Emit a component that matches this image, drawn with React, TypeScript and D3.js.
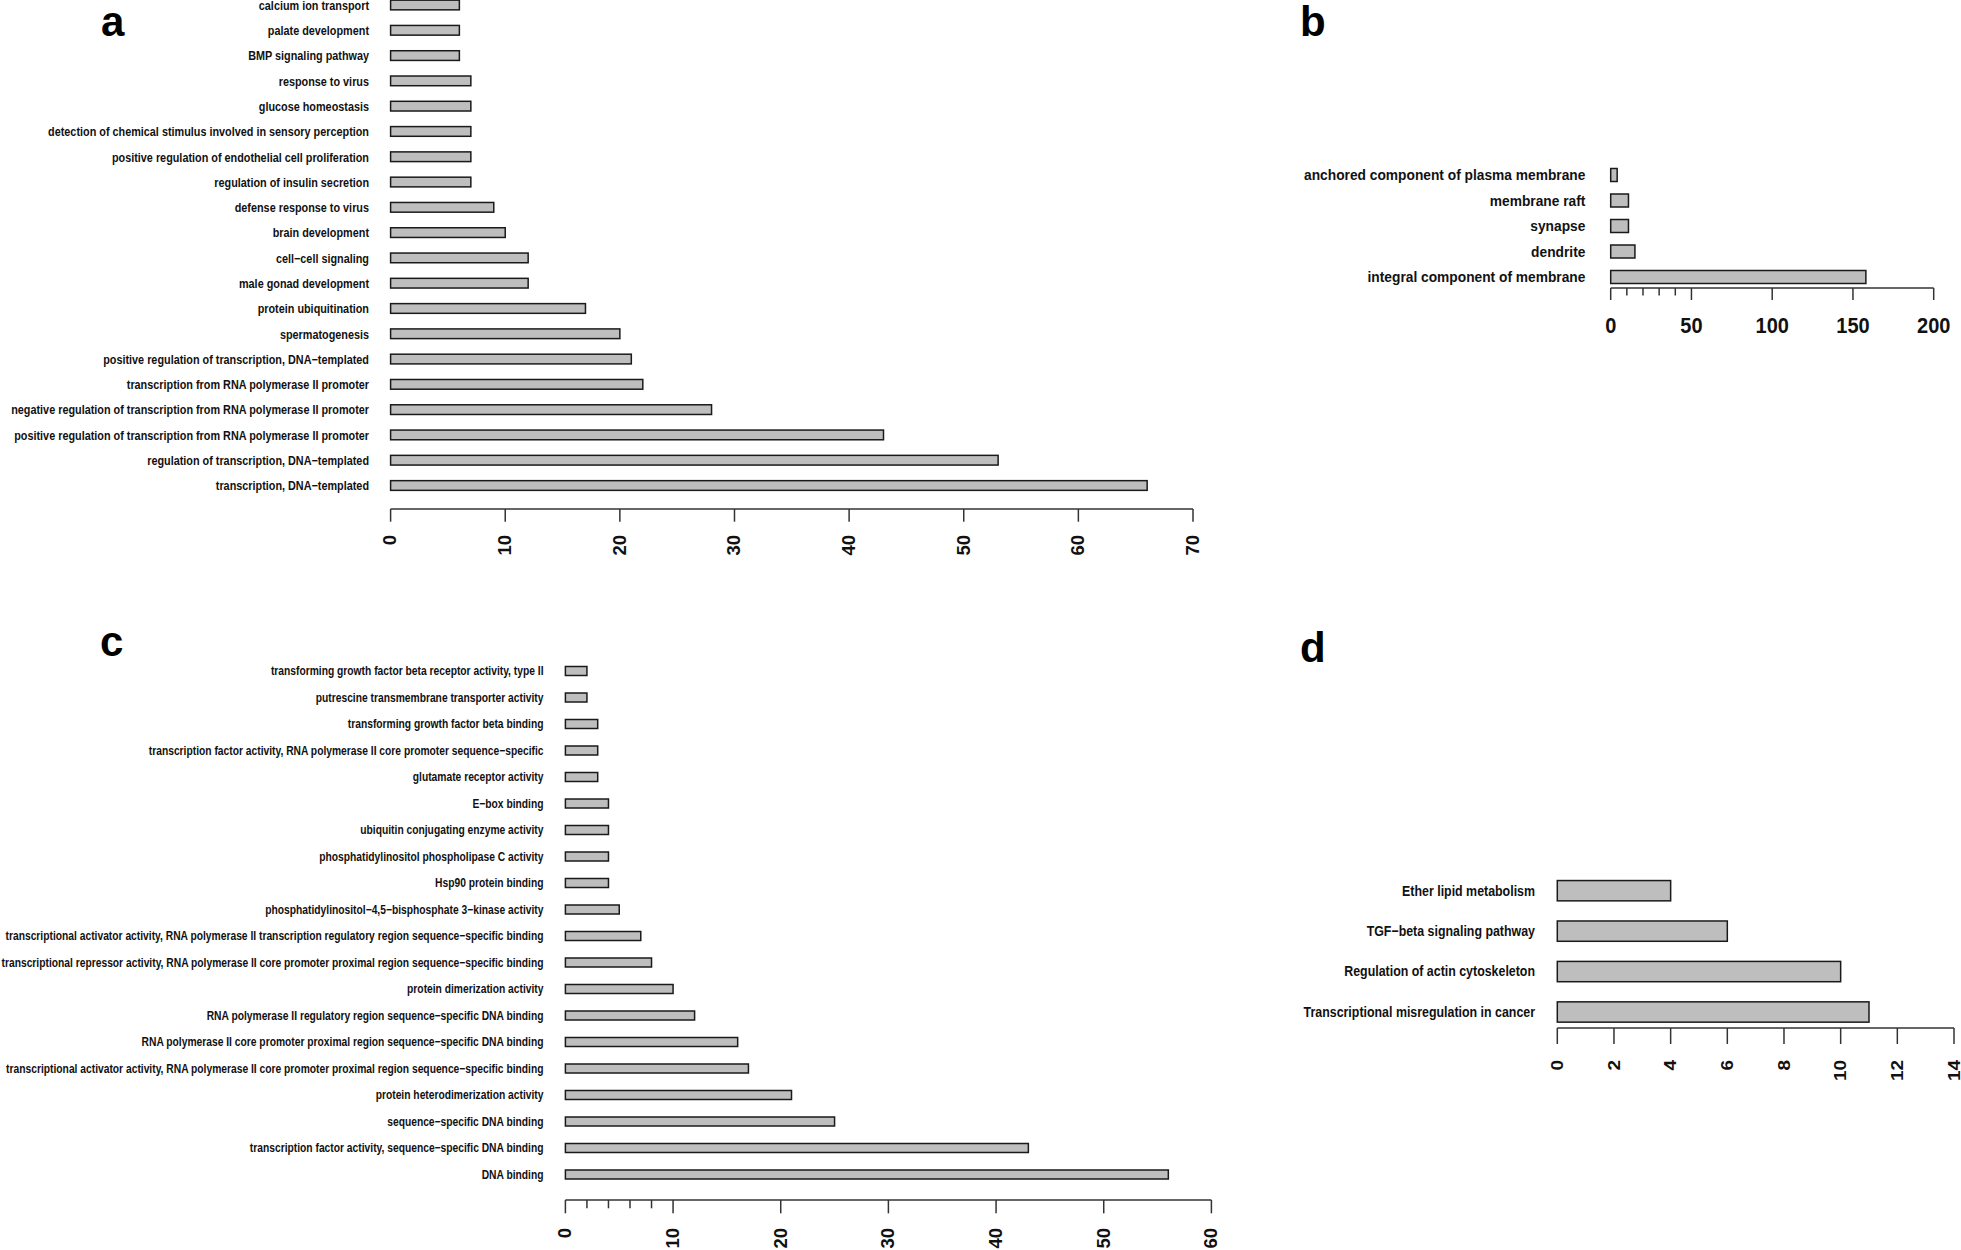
import React from "react";
import * as d3 from "d3";

// ---------- DATA ----------
const bpLabels = [
  "calcium ion transport",
  "palate development",
  "BMP signaling pathway",
  "response to virus",
  "glucose homeostasis",
  "detection of chemical stimulus involved in sensory perception",
  "positive regulation of endothelial cell proliferation",
  "regulation of insulin secretion",
  "defense response to virus",
  "brain development",
  "cell\u2212cell signaling",
  "male gonad development",
  "protein ubiquitination",
  "spermatogenesis",
  "positive regulation of transcription, DNA\u2212templated",
  "transcription from RNA polymerase II promoter",
  "negative regulation of transcription from RNA polymerase II promoter",
  "positive regulation of transcription from RNA polymerase II promoter",
  "regulation of transcription, DNA\u2212templated",
  "transcription, DNA\u2212templated",
];
const bpCounts = [6, 6, 6, 7, 7, 7, 7, 7, 9, 10, 12, 12, 17, 20, 21, 22, 28, 43, 53, 66];
const bpTicks = [0, 10, 20, 30, 40, 50, 60, 70];

const ccLabels = [
  "anchored component of plasma membrane",
  "membrane raft",
  "synapse",
  "dendrite",
  "integral component of membrane",
];
const ccCounts = [4, 11, 11, 15, 158];
const ccMajorTicks = [0, 50, 100, 150, 200];
const ccMinorTicks = [10, 20, 30, 40];

const mfLabels = [
  "transforming growth factor beta receptor activity, type II",
  "putrescine transmembrane transporter activity",
  "transforming growth factor beta binding",
  "transcription factor activity, RNA polymerase II core promoter sequence\u2212specific",
  "glutamate receptor activity",
  "E\u2212box binding",
  "ubiquitin conjugating enzyme activity",
  "phosphatidylinositol phospholipase C activity",
  "Hsp90 protein binding",
  "phosphatidylinositol\u22124,5\u2212bisphosphate 3\u2212kinase activity",
  "transcriptional activator activity, RNA polymerase II transcription regulatory region sequence\u2212specific binding",
  "transcriptional repressor activity, RNA polymerase II core promoter proximal region sequence\u2212specific binding",
  "protein dimerization activity",
  "RNA polymerase II regulatory region sequence\u2212specific DNA binding",
  "RNA polymerase II core promoter proximal region sequence\u2212specific DNA binding",
  "transcriptional activator activity, RNA polymerase II core promoter proximal region sequence\u2212specific binding",
  "protein heterodimerization activity",
  "sequence\u2212specific DNA binding",
  "transcription factor activity, sequence\u2212specific DNA binding",
  "DNA binding",
];
const mfCounts = [2, 2, 3, 3, 3, 4, 4, 4, 4, 5, 7, 8, 10, 12, 16, 17, 21, 25, 43, 56];
const mfMajorTicks = [0, 10, 20, 30, 40, 50, 60];
const mfMinorTicks = [2, 4, 6, 8];

const keggLabels = [
  "Ether lipid metabolism",
  "TGF\u2212beta signaling pathway",
  "Regulation of actin cytoskeleton",
  "Transcriptional misregulation in cancer",
];
const keggCounts = [4, 6, 10, 11];
const keggTicks = [0, 2, 4, 6, 8, 10, 12, 14];

// ---------- DRAWING ----------
const FONT = "'Liberation Sans', Arial, Helvetica, sans-serif";
const BAR_FILL = "#bebebe";
const BAR_STROKE = "#1a1a1a";
const AXIS = "#333";

type PanelProps = {
  letter: string;
  letterX: number;
  letterY: number;
  labels: string[];
  counts: number[];
  domainMax: number;
  x0: number;
  x1: number;
  yFirst: number;
  yLast: number;
  barH: number;
  labelX: number;
  labelSize: number;
  labelSX: number;
  axisY: number;
  majorTicks: number[];
  minorTicks: number[];
  majorLen: number;
  minorLen: number;
  rotated: boolean;
  tickSize: number;
  tickSX: number;
  tickOffset: number;
};

function Panel(p: PanelProps) {
  const x = d3.scaleLinear().domain([0, p.domainMax]).range([p.x0, p.x1]);
  const y = d3.scalePoint<string>().domain(p.labels).range([p.yFirst, p.yLast]);
  return (
    <g>
      <text x={p.letterX} y={p.letterY} fontFamily={FONT} fontWeight="bold" fontSize={42} fill="#000">
        {p.letter}
      </text>
      {p.labels.map((l, i) => (
        <g key={"b" + i}>
          <text
            transform={`translate(${p.labelX},${y(l)}) scale(${p.labelSX},1)`}
            textAnchor="end"
            dominantBaseline="central"
            fontFamily={FONT}
            fontWeight="bold"
            fontSize={p.labelSize}
            fill="#111"
          >
            {l}
          </text>
          <rect
            x={x(0)}
            y={(y(l) as number) - p.barH / 2}
            width={x(p.counts[i]) - x(0)}
            height={p.barH}
            fill={BAR_FILL}
            stroke={BAR_STROKE}
            strokeWidth={1.5}
          />
        </g>
      ))}
      <line x1={x(0)} x2={x(p.domainMax)} y1={p.axisY} y2={p.axisY} stroke={AXIS} strokeWidth={1.5} />
      {p.majorTicks.map((t) => (
        <line key={"M" + t} x1={x(t)} x2={x(t)} y1={p.axisY} y2={p.axisY + p.majorLen} stroke={AXIS} strokeWidth={1.5} />
      ))}
      {p.minorTicks.map((t) => (
        <line key={"m" + t} x1={x(t)} x2={x(t)} y1={p.axisY} y2={p.axisY + p.minorLen} stroke={AXIS} strokeWidth={1.5} />
      ))}
      {p.majorTicks.map((t) =>
        p.rotated ? (
          <text
            key={"t" + t}
            transform={`translate(${x(t)},${p.axisY + p.tickOffset}) rotate(-90) scale(1,${p.tickSX})`}
            textAnchor="end"
            dominantBaseline="central"
            fontFamily={FONT}
            fontWeight="bold"
            fontSize={p.tickSize}
            fill="#111"
          >
            {t}
          </text>
        ) : (
          <text
            key={"t" + t}
            transform={`translate(${x(t)},${p.axisY + p.tickOffset}) scale(${p.tickSX},1)`}
            textAnchor="middle"
            fontFamily={FONT}
            fontWeight="bold"
            fontSize={p.tickSize}
            fill="#111"
          >
            {t}
          </text>
        )
      )}
    </g>
  );
}

export default function App() {
  return (
    <svg
      width={1961}
      height={1250}
      viewBox="0 0 1961 1250"
      style={{ position: "absolute", left: 0, top: 0, background: "#fff" }}
    >
      <rect width={1961} height={1250} fill="#fff" />
      <Panel
        letter="a" letterX={101} letterY={36}
        labels={bpLabels} counts={bpCounts} domainMax={70}
        x0={390.6} x1={1193} yFirst={5} yLast={485.5} barH={9.7}
        labelX={369} labelSize={12.5} labelSX={0.868}
        axisY={509} majorTicks={bpTicks} minorTicks={[]} majorLen={12.7} minorLen={0}
        rotated={true} tickSize={18.5} tickSX={0.95} tickOffset={26}
      />
      <Panel
        letter="b" letterX={1300} letterY={36}
        labels={ccLabels} counts={ccCounts} domainMax={200}
        x0={1610.7} x1={1933.7} yFirst={175} yLast={277} barH={13}
        labelX={1585.4} labelSize={14.5} labelSX={0.95}
        axisY={288} majorTicks={ccMajorTicks} minorTicks={ccMinorTicks} majorLen={12} minorLen={7.5}
        rotated={false} tickSize={21.5} tickSX={0.93} tickOffset={45}
      />
      <Panel
        letter="c" letterX={100} letterY={656}
        labels={mfLabels} counts={mfCounts} domainMax={60}
        x0={565.4} x1={1211.4} yFirst={671} yLast={1174.5} barH={9}
        labelX={543.5} labelSize={12.5} labelSX={0.822}
        axisY={1200} majorTicks={mfMajorTicks} minorTicks={mfMinorTicks} majorLen={13.3} minorLen={8.3}
        rotated={true} tickSize={18.5} tickSX={0.95} tickOffset={28}
      />
      <Panel
        letter="d" letterX={1300} letterY={662}
        labels={keggLabels} counts={keggCounts} domainMax={14}
        x0={1557.3} x1={1954} yFirst={890.7} yLast={1012} barH={20.3}
        labelX={1535} labelSize={15} labelSX={0.827}
        axisY={1028} majorTicks={keggTicks} minorTicks={[]} majorLen={16} minorLen={0}
        rotated={true} tickSize={19} tickSX={0.9} tickOffset={32}
      />
    </svg>
  );
}
